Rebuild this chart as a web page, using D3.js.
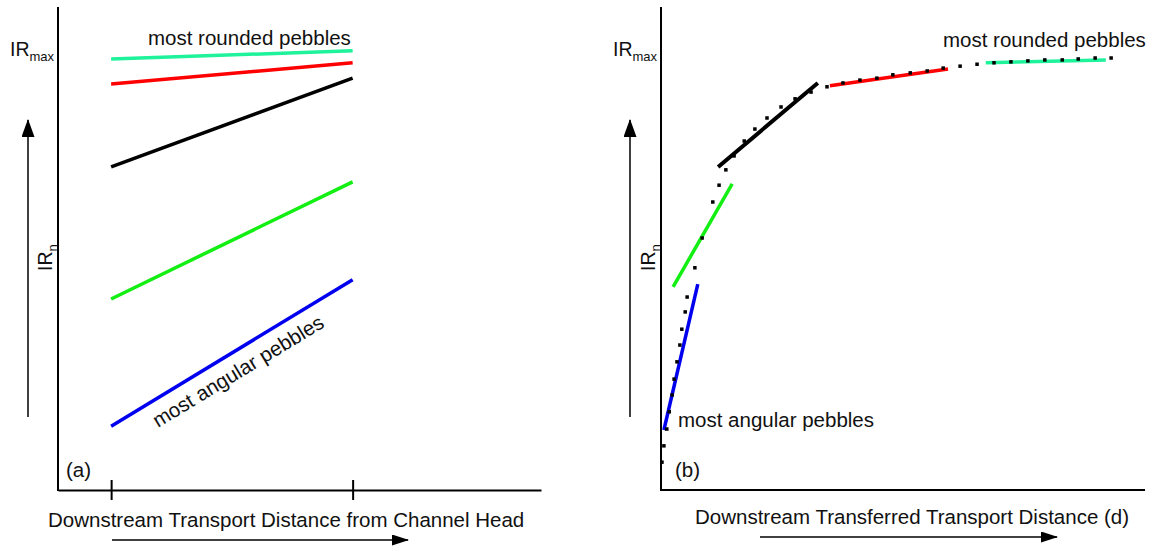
<!DOCTYPE html>
<html>
<head>
<meta charset="utf-8">
<script src="https://cdn.jsdelivr.net/npm/d3@7"></script>
<style>
  html, body { margin: 0; padding: 0; background: #fff; }
  svg { display: block; }
  text { font-family: "Liberation Sans", Arial, sans-serif; fill: #111; }
</style>
</head>
<body>
<svg id="chart" width="1149" height="549"></svg>
<script>
// Roundness index IR_n (0 = most angular, 100 = IR_max) versus downstream distance.
// Panel (a): five pebble classes sampled at two stations along the channel.
const stationsA = [11, 61];               // distance from channel head (axis units)
const classes   = ["most rounded", "rounded", "sub-rounded", "sub-angular", "most angular"];
const colors    = ["#1ef29a", "#ff0000", "#000000", "#13ee13", "#0000ee"];
const irStart   = [89.8, 84.6, 67.3, 39.8, 13.3];   // IR_n at the upstream station
const irEnd     = [91.5, 89.0, 85.8, 64.2, 43.8];   // IR_n at the downstream station

// Panel (b): the same classes shifted to a common transferred transport distance d.
const dStart    = [67.1, 34.9, 11.8, 2.5, 0.6];
const dEnd      = [91.9, 59.3, 32.4, 14.7, 7.6];
const irStartB  = [89.0, 84.2, 67.3, 42.3, 12.5];
const irEndB    = [89.6, 87.7, 84.8, 63.8, 42.9];

// Composite curve through the shifted segments (sampled points).
const curveD  = [0.2, 0.6, 1.2, 1.7, 2.3, 2.7, 3.3, 3.9, 4.3, 5.0, 5.4, 7.0, 8.5, 10.7, 12.0,
                 13.4, 15.1, 17.2, 19.4, 21.9, 24.8, 27.7, 31.0, 34.3, 37.6, 41.1, 44.6, 47.9,
                 51.5, 55.0, 58.3, 61.8, 65.3, 68.8, 72.3, 75.8, 79.3, 82.9, 86.2, 89.7, 93.0];
const curveIR = [5.8, 9.2, 12.7, 16.3, 19.8, 23.1, 26.7, 30.2, 33.5, 37.1, 40.2, 46.3, 52.5, 60.0, 63.5,
                 66.7, 69.6, 72.7, 75.2, 77.5, 79.8, 81.5, 82.9, 84.0, 84.8, 85.4, 85.8, 86.5,
                 86.9, 87.3, 87.9, 88.3, 88.7, 89.0, 89.2, 89.4, 89.6, 89.6, 89.8, 90.0, 90.0];

const svg = d3.select("#chart");
const FS = "20.5px";

const y = d3.scaleLinear().domain([0, 100]).range([490, 10]);
const xA = d3.scaleLinear().domain([0, 100]).range([58, 541]);
const xB = d3.scaleLinear().domain([0, 100]).range([661, 1145]);

// arrowhead markers
const defs = svg.append("defs");
function marker(id, len, wid) {
  defs.append("marker")
    .attr("id", id)
    .attr("viewBox", `0 0 ${len} ${wid}`)
    .attr("refX", len - 1).attr("refY", wid / 2)
    .attr("markerWidth", len).attr("markerHeight", wid)
    .attr("markerUnits", "userSpaceOnUse")
    .attr("orient", "auto")
    .append("path").attr("d", `M0,0 L${len},${wid / 2} L0,${wid} Z`).attr("fill", "#000");
}
marker("headH", 17, 11);
marker("headV", 18, 13);

function arrow(x1, y1, x2, y2, head) {
  svg.append("line")
    .attr("x1", x1).attr("y1", y1).attr("x2", x2).attr("y2", y2)
    .attr("stroke", "#000").attr("stroke-width", 1.5)
    .attr("marker-end", `url(#${head})`);
}

function irLabels(xAxisPos, arrowX, irnX) {
  // IR_max label
  const t = svg.append("text").attr("x", xAxisPos - 48).attr("y", 56)
    .style("font-size", "19.5px");
  t.append("tspan").text("IR");
  t.append("tspan").attr("dy", 5).style("font-size", "13px").text("max");
  // vertical IR_n label
  const r = svg.append("text")
    .attr("transform", `translate(${irnX},271) rotate(-90)`)
    .style("font-size", "19.5px");
  r.append("tspan").text("IR");
  r.append("tspan").attr("dy", 5).style("font-size", "13px").text("n");
  arrow(arrowX, 417, arrowX, 120, "headV");
}

// ---------- panel (a) ----------
const gA = svg.append("g");
gA.append("g")
  .attr("transform", `translate(0,${y(0)})`)
  .call(d3.axisBottom(xA).tickValues(stationsA).tickSize(10).tickSizeOuter(0).tickFormat(""))
  .call(g => g.select(".domain").attr("stroke-width", 2))
  .call(g => g.selectAll(".tick line").attr("y1", -10).attr("stroke-width", 2));
gA.append("line")
  .attr("x1", xA(0)).attr("x2", xA(0)).attr("y1", y(0) + 1).attr("y2", 7)
  .attr("stroke", "#000").attr("stroke-width", 2);

gA.selectAll("line.cls")
  .data(classes)
  .join("line")
  .attr("class", "cls")
  .attr("x1", xA(stationsA[0])).attr("x2", xA(stationsA[1]))
  .attr("y1", (d, i) => y(irStart[i])).attr("y2", (d, i) => y(irEnd[i]))
  .attr("stroke", (d, i) => colors[i]).attr("stroke-width", 3.5);

svg.append("text").attr("x", 148).attr("y", 45).style("font-size", FS)
  .text("most rounded pebbles");
{
  const ang = Math.atan2(y(irEnd[4]) - y(irStart[4]), xA(stationsA[1]) - xA(stationsA[0])) * 180 / Math.PI;
  svg.append("text")
    .attr("transform", `translate(158,428) rotate(${ang})`)
    .style("font-size", FS)
    .text("most angular pebbles");
}
svg.append("text").attr("x", 66).attr("y", 477).style("font-size", FS).text("(a)");
svg.append("text").attr("x", 48).attr("y", 527).style("font-size", FS)
  .text("Downstream Transport Distance from Channel Head");
irLabels(58, 28, 52);
arrow(112, 540, 408, 540, "headH");

// ---------- panel (b) ----------
const gB = svg.append("g");
gB.append("line")
  .attr("x1", xB(0) - 1).attr("x2", xB(100)).attr("y1", y(0)).attr("y2", y(0))
  .attr("stroke", "#000").attr("stroke-width", 2);
gB.append("line")
  .attr("x1", xB(0)).attr("x2", xB(0)).attr("y1", y(0) + 1).attr("y2", 7)
  .attr("stroke", "#000").attr("stroke-width", 2);

gB.selectAll("line.cls")
  .data(classes)
  .join("line")
  .attr("class", "cls")
  .attr("x1", (d, i) => xB(dStart[i])).attr("x2", (d, i) => xB(dEnd[i]))
  .attr("y1", (d, i) => y(irStartB[i])).attr("y2", (d, i) => y(irEndB[i]))
  .attr("stroke", (d, i) => colors[i])
  .attr("stroke-width", (d, i) => i === 2 ? 4 : 3.5);

gB.selectAll("rect.dot")
  .data(curveD)
  .join("rect")
  .attr("class", "dot")
  .attr("x", d => xB(d) - 1.75)
  .attr("y", (d, i) => y(curveIR[i]) - 1.75)
  .attr("width", 3.5).attr("height", 3.5)
  .attr("fill", "#000");

svg.append("text").attr("x", 943).attr("y", 47).style("font-size", FS)
  .text("most rounded pebbles");
svg.append("text").attr("x", 678).attr("y", 427).style("font-size", FS)
  .text("most angular pebbles");
svg.append("text").attr("x", 675).attr("y", 477).style("font-size", FS).text("(b)");
svg.append("text").attr("x", 695).attr("y", 524).style("font-size", FS)
  .text("Downstream Transferred Transport Distance (d)");
irLabels(661, 630, 655);
arrow(760, 537, 1057, 537, "headH");
</script>
</body>
</html>
